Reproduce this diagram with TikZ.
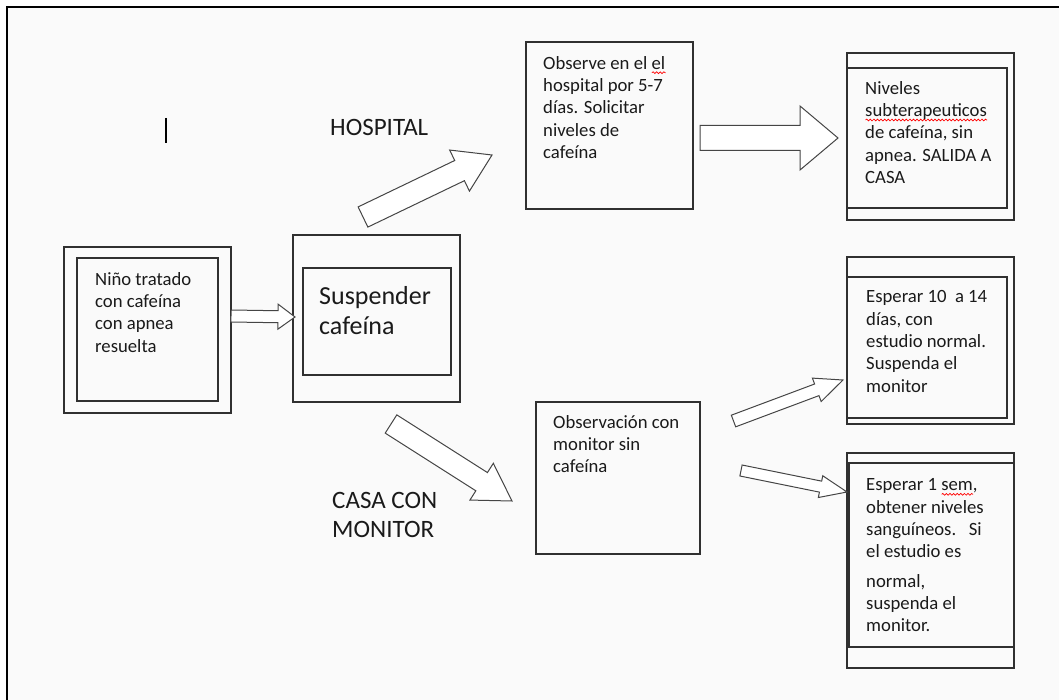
\documentclass[tikz,border=0pt]{standalone}
\usepackage{fontspec}
\setmainfont{Carlito}
\usetikzlibrary{calc,decorations.pathmorphing}

\definecolor{pagebg}{HTML}{FAFAFA}
\definecolor{boxline}{HTML}{303030}
\definecolor{arrline}{HTML}{454545}
\definecolor{textcol}{HTML}{1A1A1A}

% red wavy underline of the spell checker
\newsavebox\squigbox
\newcommand\squig[1]{\sbox\squigbox{#1}\rlap{\tikz[baseline=0pt, x=1pt, y=1pt]
  \draw[red, line width=0.7pt, decorate, decoration={snake, amplitude=0.9pt, segment length=3.6pt}]
  (0,-3.5) -- (\wd\squigbox,-3.5);}\usebox\squigbox}

\tikzset{
  box/.style={draw=boxline, line width=1.3pt},
  arrowbox/.style={draw=arrline, fill=white, line width=1pt, line join=miter},
  txt/.style={anchor=north west, inner sep=0pt, align=left, text=textcol,
    font=\fontsize{18.7}{22.3}\selectfont},
  bigtxt/.style={txt, font=\fontsize{25}{29}\selectfont}
}

\begin{document}
\begin{tikzpicture}[x=1pt, y=-1pt]

% tail, tip, shaft half width, head half width, head length
\newcommand\blockarrow[5]{%
  \coordinate (neck) at ($(#2)!#5!(#1)$);
  \draw[arrowbox] ($(#1)!#3!90:(#2)$) -- ($(neck)!#3!90:(#2)$) -- ($(neck)!#4!90:(#2)$) -- (#2)
    -- ($(neck)!#4!-90:(#2)$) -- ($(neck)!#3!-90:(#2)$) -- ($(#1)!#3!-90:(#2)$) -- cycle;
}

\useasboundingbox (0,0) rectangle (1059,700);
\fill[white] (0,0) rectangle (1059,700);
\fill[pagebg] (7,7) rectangle (1059,700);
\draw[line width=2.2pt] (1070,7) -- (7,7) -- (7,710); % frame

\draw[line width=1.8pt] (166,118) -- (166,143); % cursor

% boxes
\draw[box] (64,247) rectangle (231,413);   % nino
\draw[box] (77,258) rectangle (218,401);
\draw[box] (293,235) rectangle (460,402);  % suspender
\draw[box] (303,268) rectangle (451,375);
\draw[box] (526,42) rectangle (693,209);   % hospital
\draw[box] (847,53) rectangle (1014,220);  % salida
\draw[box] (847,68) rectangle (1007,208);
\draw[box] (847,257) rectangle (1014,424); % diez dias
\draw[box] (847,277) rectangle (1007,418);
\draw[box] (536,402) rectangle (700,554);  % observacion
\draw[box] (847,453) rectangle (1014,668); % una semana
\draw[box] (849,463) rectangle (1014,647);

% texts
\node[txt] (nino) at (95,269.4) {\strut Niño tratado\\con cafeína\\con apnea\\resuelta};
\node[bigtxt, font=\fontsize{26}{30}\selectfont] (suspender) at (319,283) {\strut Suspender\\cafeína};
\node[txt] (hosp) at (543,53.4) {\strut Observe en el \squig{el}\\hospital por 5-7\\días. Solicitar\\niveles de\\cafeína};
\node[txt] (salida) at (865,78.4) {\strut Niveles\\\squig{subterapeuticos}\\de cafeína, sin\\apnea. SALIDA A\\CASA};
\node[txt] (diez) at (866,287) {\strut Esperar 10\ \ a 14\\días, con\\estudio normal.\\Suspenda el\\monitor};
\node[txt] (obs) at (553,412.4) {\strut Observación con\\monitor sin\\cafeína};
\node[txt] (semana) at (866,475) {\strut Esperar 1 \squig{sem},\\obtener niveles\\sanguíneos.\ \ \ Si\\el estudio es\\[7pt]normal,\\suspenda el\\monitor.};
\node[bigtxt] (lblhosp) at (330,115) {\strut HOSPITAL};
\node[bigtxt] (lblcasa) at (332,487.7) {\strut CASA CON\\MONITOR};

% arrow ends
\coordinate (a1) at (231,316);   \coordinate (b1) at (295,317);
\coordinate (a2) at (363,217);   \coordinate (b2) at (492,155);
\coordinate (a3) at (700,138);   \coordinate (b3) at (838,138);
\coordinate (a4) at (391,424);   \coordinate (b4) at (512,501);
\coordinate (a5) at (733.5,421); \coordinate (b5) at (843,380);
\coordinate (a6) at (741,470.5); \coordinate (b6) at (847,492);

\blockarrow{a1}{b1}{6pt}{12.5pt}{17pt}
\blockarrow{a2}{b2}{11.2pt}{22.8pt}{36pt}
\blockarrow{a3}{b3}{12.5pt}{32pt}{38pt}
\blockarrow{a4}{b4}{10.8pt}{21.8pt}{36pt}
\blockarrow{a5}{b5}{6.2pt}{12.5pt}{28pt}
\blockarrow{a6}{b6}{5.6pt}{11.1pt}{27pt}

\end{tikzpicture}
\end{document}
